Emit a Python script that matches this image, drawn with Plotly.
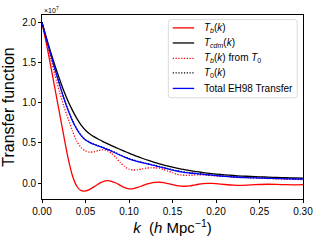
import plotly.graph_objects as go

# wavenumber grid (h/Mpc)
k = [0.000, 0.005, 0.010, 0.015, 0.020, 0.025, 0.030, 0.035, 0.040, 0.045,
     0.050, 0.055, 0.060, 0.065, 0.070, 0.075, 0.080, 0.085, 0.090, 0.095,
     0.100, 0.105, 0.110, 0.115, 0.120, 0.125, 0.130, 0.135, 0.140, 0.145,
     0.150, 0.155, 0.160, 0.165, 0.170, 0.175, 0.180, 0.185, 0.190, 0.195,
     0.200, 0.210, 0.220, 0.230, 0.240, 0.250, 0.260, 0.270, 0.280, 0.290,
     0.300]

# values in units of 1e7
T_b = [2.00, 1.74, 1.46, 1.17, 0.88, 0.59, 0.31, 0.09, -0.04, -0.095,
       -0.098, -0.078, -0.045, -0.010, 0.018, 0.030, 0.022, 0.000, -0.030, -0.058,
       -0.072, -0.070, -0.055, -0.035, -0.015, 0.000, 0.008, 0.010, 0.005, -0.008,
       -0.020, -0.032, -0.038, -0.040, -0.035, -0.025, -0.015, -0.008, -0.005, -0.005,
       -0.008, -0.018, -0.026, -0.028, -0.024, -0.018, -0.015, -0.017, -0.021, -0.023,
       -0.021]

T_cdm = [2.00, 1.81, 1.63, 1.46, 1.30, 1.15, 1.02, 0.905, 0.805, 0.722,
         0.658, 0.612, 0.575, 0.545, 0.517, 0.491, 0.466, 0.442, 0.418, 0.395,
         0.372, 0.350, 0.329, 0.309, 0.290, 0.272, 0.255, 0.239, 0.224, 0.210,
         0.197, 0.185, 0.174, 0.164, 0.155, 0.146, 0.138, 0.131, 0.124, 0.118,
         0.112, 0.102, 0.094, 0.087, 0.082, 0.077, 0.073, 0.070, 0.067, 0.064,
         0.062]

T_b_from_T0 = [2.00, 1.77, 1.55, 1.34, 1.14, 0.96, 0.80, 0.65, 0.52, 0.44,
               0.400, 0.385, 0.390, 0.405, 0.415, 0.405, 0.370, 0.315, 0.255, 0.205,
               0.172, 0.162, 0.165, 0.175, 0.185, 0.190, 0.190, 0.183, 0.168, 0.148,
               0.128, 0.110, 0.100, 0.096, 0.097, 0.100, 0.102, 0.100, 0.097, 0.093,
               0.089, 0.082, 0.075, 0.070, 0.066, 0.061, 0.056, 0.052, 0.048, 0.045,
               0.042]

T_0 = [2.00, 1.80, 1.605, 1.417, 1.237, 1.065, 0.911, 0.780, 0.675, 0.595,
       0.540, 0.509, 0.485, 0.465, 0.445, 0.424, 0.401, 0.376, 0.351, 0.327,
       0.306, 0.288, 0.273, 0.259, 0.245, 0.232, 0.220, 0.206, 0.193, 0.179,
       0.166, 0.154, 0.144, 0.135, 0.128, 0.122, 0.117, 0.112, 0.106, 0.101,
       0.096, 0.086, 0.078, 0.072, 0.068, 0.065, 0.062, 0.059, 0.056, 0.053,
       0.052]

T_total = [2.00, 1.799, 1.603, 1.414, 1.233, 1.060, 0.906, 0.775, 0.670, 0.590,
           0.535, 0.504, 0.480, 0.460, 0.440, 0.419, 0.396, 0.371, 0.346, 0.322,
           0.301, 0.283, 0.268, 0.254, 0.241, 0.228, 0.216, 0.202, 0.189, 0.175,
           0.162, 0.150, 0.140, 0.131, 0.125, 0.119, 0.114, 0.109, 0.103, 0.098,
           0.093, 0.083, 0.075, 0.069, 0.065, 0.062, 0.059, 0.056, 0.053, 0.050,
           0.049]

x_ticks = [0.00, 0.05, 0.10, 0.15, 0.20, 0.25, 0.30]
x_tick_labels = ["0.00", "0.05", "0.10", "0.15", "0.20", "0.25", "0.30"]
y_ticks = [0.0, 0.5, 1.0, 1.5, 2.0]
y_tick_labels = ["0.0", "0.5", "1.0", "1.5", "2.0"]

series_names = [
    "<i>T</i><sub><i>b</i></sub>(<i>k</i>)",
    "<i>T</i><sub><i>cdm</i></sub>(<i>k</i>)",
    "<i>T</i><sub><i>b</i></sub>(<i>k</i>) from <i>T</i><sub>0</sub>",
    "<i>T</i><sub>0</sub>(<i>k</i>)",
    "Total EH98 Transfer",
]
series_values = [T_b, T_cdm, T_b_from_T0, T_0, T_total]
series_colors = ["#ff0000", "#000000", "#ff0000", "#000000", "#0000ff"]
DOT = "1.2px,1.6px"
series_dash = ["solid", "solid", DOT, DOT, "solid"]

FONT = "Liberation Sans, Arial, sans-serif"
LW = 1.3

fig = go.Figure()
for name, vals, color, dash in zip(series_names, series_values, series_colors, series_dash):
    fig.add_trace(go.Scatter(
        x=k, y=vals, mode="lines", name=name, showlegend=False,
        line=dict(color=color, width=LW, dash=dash, shape="spline", smoothing=0.6),
    ))

axis_common = dict(
    showline=True, linecolor="#000000", linewidth=0.9, mirror=True,
    ticks="outside", ticklen=3, tickwidth=0.9, tickcolor="#000000",
    showgrid=False, zeroline=False, automargin=False,
    tickfont=dict(family=FONT, size=10, color="#000000"),
)

fig.update_layout(
    width=320, height=240,
    margin=dict(l=42, r=17, t=15, b=41),
    paper_bgcolor="white", plot_bgcolor="white",
    font=dict(family=FONT, color="#000000"),
    xaxis=dict(
        range=[0, 0.30], tickvals=x_ticks, ticktext=x_tick_labels,
        title=dict(text="<i>k</i>  (<i>h</i> Mpc<sup>−1</sup>)",
                   font=dict(family=FONT, size=15, color="#000000"), standoff=2),
        **axis_common,
    ),
    yaxis=dict(
        range=[-0.199, 2.094], tickvals=y_ticks, ticktext=y_tick_labels,
        title=dict(text="Transfer function",
                   font=dict(family=FONT, size=16, color="#000000"), standoff=4),
        **axis_common,
    ),
    showlegend=False,
)

# legend box (paper coordinates of the plot area), with rounded corners
bx0, bx1, by0, by1 = 0.484, 0.978, 0.550, 0.975
rx, ry = 0.011, 0.016
box_path = (
    f"M {bx0+rx},{by1} L {bx1-rx},{by1} Q {bx1},{by1} {bx1},{by1-ry} "
    f"L {bx1},{by0+ry} Q {bx1},{by0} {bx1-rx},{by0} "
    f"L {bx0+rx},{by0} Q {bx0},{by0} {bx0},{by0+ry} "
    f"L {bx0},{by1-ry} Q {bx0},{by1} {bx0+rx},{by1} Z"
)
fig.add_shape(type="path", path=box_path, xref="paper", yref="paper",
              fillcolor="rgba(255,255,255,0.8)", line=dict(color="#d0d0d0", width=0.8))

row_y = [0.930, 0.848, 0.764, 0.686, 0.601]
for name, color, dash, yy in zip(series_names, series_colors, series_dash, row_y):
    fig.add_shape(type="line", xref="paper", yref="paper",
                  x0=0.501, x1=0.583, y0=yy, y1=yy,
                  line=dict(color=color, width=LW, dash=dash))
    fig.add_annotation(text=name, xref="paper", yref="paper", x=0.613, y=yy,
                       xanchor="left", yanchor="middle", showarrow=False,
                       font=dict(family=FONT, size=10, color="#000000"))

fig.add_annotation(
    text="×10<sup>7</sup>", xref="paper", yref="paper", x=0, y=1,
    xanchor="left", yanchor="bottom", showarrow=False, yshift=-1,
    font=dict(family=FONT, size=7, color="#000000"),
)

fig.write_html("out.html",
               config={"displayModeBar": False},
               post_script="document.body.style.margin='0px';")
